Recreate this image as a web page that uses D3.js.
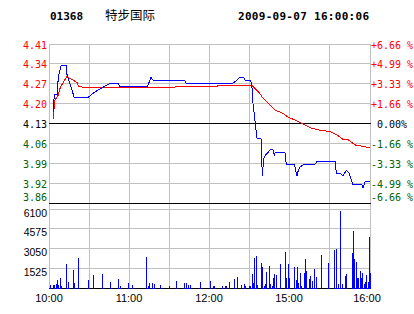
<!DOCTYPE html>
<html>
<head>
<meta charset="utf-8">
<script src="https://cdn.jsdelivr.net/npm/d3@7"></script>
<style>
    body { margin: 0; background: white; }
    svg { display: block; }
</style>
</head>
<body>
<div id="chart"></div>
<script>
// header
const stockCode = "01368";
const stockName = "特步国际";
const stamp = "2009-09-07 16:00:06";

// minutes since 10:00 (trading time) and price of the blue line
const priceMin = [3, 4, 6, 7, 9, 13, 13.5, 19, 29, 34.5, 46, 52, 53, 74, 76.5, 78, 101.5, 103, 138, 141, 143, 146, 147, 151, 152, 153, 154.5, 156, 159, 160, 161, 162, 166, 168, 169, 169.5, 177, 178, 184, 186, 187, 188, 191, 199.5, 201, 214.5, 215.5, 218, 220.5, 223, 225, 228, 234.5, 235.5, 237, 241];
const prices = [4.17, 4.23, 4.23, 4.29, 4.33, 4.33, 4.30, 4.22, 4.22, 4.24, 4.27, 4.27, 4.26, 4.26, 4.29, 4.28, 4.28, 4.27, 4.27, 4.28, 4.29, 4.29, 4.28, 4.28, 4.27, 4.20, 4.14, 4.08, 4.08, 3.95, 4.01, 4.02, 4.04, 4.04, 4.02, 4.03, 4.03, 3.99, 3.99, 3.95, 3.97, 3.98, 3.99, 3.99, 4.00, 4.00, 3.96, 3.96, 3.95, 3.97, 3.96, 3.92, 3.92, 3.91, 3.93, 3.93];

// red average line
const avgMin = [3, 4.5, 7, 8.5, 13.3, 18, 21, 22, 25.5, 126.5, 126.5, 152, 154.5, 158, 160.5, 164.5, 169.5, 175.5, 179.5, 184.5, 190.5, 196, 203, 211, 217, 220.5, 224.5, 229.5, 234.5, 241];
const avgPrices = [4.145, 4.212, 4.229, 4.256, 4.292, 4.281, 4.272, 4.260, 4.256, 4.257, 4.261, 4.263, 4.252, 4.235, 4.218, 4.200, 4.177, 4.166, 4.152, 4.143, 4.129, 4.116, 4.108, 4.103, 4.088, 4.076, 4.074, 4.057, 4.053, 4.047];

// volume bars
const volMin = [1, 3, 4, 5, 6, 7, 8, 9, 13, 14, 18, 19, 22, 29, 33, 40, 46, 52, 53, 59, 62, 73, 74, 75, 77, 79, 83, 90, 95, 101, 103, 104, 106, 113, 121, 123, 124, 130, 132, 133, 135, 139, 141, 144, 146, 147, 150, 151, 152, 153, 154, 155, 156, 159, 160, 161, 162, 163, 165, 166, 167, 168, 169, 170, 173, 177, 178, 179, 180, 184, 185, 186, 187, 188, 189, 191, 192, 193, 195, 196, 197, 199, 200, 204, 209, 214, 215, 217, 218, 220, 222, 223, 227, 228, 229, 230, 231, 232, 233, 234, 235, 236, 237, 238, 239, 240, 241];
const volumes = [255, 255, 255, 330, 640, 255, 790, 180, 1880, 480, 1415, 410, 2340, 640, 1025, 1100, 480, 715, 180, 410, 255, 2420, 180, 410, 410, 330, 255, 180, 560, 410, 410, 255, 255, 480, 560, 180, 180, 180, 180, 180, 480, 715, 870, 255, 330, 180, 180, 180, 1100, 410, 2340, 2490, 255, 1950, 1640, 180, 330, 1255, 1720, 330, 180, 790, 1100, 1025, 1880, 2800, 790, 1880, 790, 1640, 640, 1640, 410, 1180, 180, 1180, 2260, 1330, 715, 950, 560, 1490, 870, 2570, 1950, 2950, 3030, 330, 5970, 330, 950, 1100, 2720, 4420, 2260, 2030, 790, 790, 1330, 790, 1180, 330, 480, 1025, 480, 3980, 1180];

// axis labels
const priceLabels = ["4.41", "4.34", "4.27", "4.20", "4.13", "4.06", "3.99", "3.92", "3.86"];
const pctLabels = ["+6.66 %", "+4.99 %", "+3.33 %", "+1.66 %", " 0.00%", "-1.66 %", "-3.33 %", "-4.99 %", "-6.66 %"];
const volLabels = ["6100", "4575", "3050", "1525"];
const timeLabels = ["10:00", "11:00", "12:00", "15:00", "16:00"];
const timeMin = [0, 60, 120, 180, 240];

const basePrice = 4.13;
const halfRange = 0.275;

const width = 414, height = 314;
const left = 49, right = 370.5;
const gridColor = "#c0c0c0";
const upColor = "#ff0000", downColor = "#006000";

const svg = d3.select("#chart").append("svg")
    .attr("width", width).attr("height", height);

const x = d3.scaleLinear().domain([0, 240]).range([left, 369]);
const y = d3.scaleLinear().domain([basePrice - halfRange, basePrice + halfRange]).range([203.5, 44]);
const yv = d3.scaleLinear().domain([0, 6100]).range([288.5, 209]);

const mono = "'DejaVu Sans Mono', 'Liberation Mono', monospace";
const sans = "'Liberation Sans', Arial, sans-serif";

// header
svg.append("text").attr("x", 50).attr("y", 20)
    .style("font-family", mono).style("font-weight", "bold").style("font-size", "11px")
    .text(stockCode);
svg.append("text").attr("x", 105).attr("y", 20)
    .style("font-family", "'Noto Sans CJK SC', sans-serif").style("font-size", "12.5px")
    .text(stockName);
svg.append("text").attr("x", 238).attr("y", 20)
    .style("font-family", mono).style("font-weight", "bold").style("font-size", "11px")
    .attr("textLength", 131)
    .text(stamp);

const grid = svg.append("g").attr("shape-rendering", "crispEdges");

// vertical grid
grid.selectAll(".vgrid")
    .data(d3.range(0, 241, 30))
    .join("line")
    .attr("class", "vgrid")
    .attr("x1", d => d === 240 ? right : x(d)).attr("x2", d => d === 240 ? right : x(d))
    .attr("y1", 44).attr("y2", 288.5)
    .style("stroke", gridColor);

// price grid
const priceSteps = priceLabels.map((d, i) => basePrice + halfRange - i * halfRange / 4);
grid.selectAll(".pgrid")
    .data(priceSteps)
    .join("line")
    .attr("class", "pgrid")
    .attr("x1", left).attr("x2", right)
    .attr("y1", d => y(d)).attr("y2", d => y(d))
    .style("stroke", (d, i) => i === 4 || i === 8 ? "black" : gridColor);

// volume grid
grid.selectAll(".vlgrid")
    .data([6100, 4575, 3050, 1525, 0])
    .join("line")
    .attr("class", "vlgrid")
    .attr("x1", left).attr("x2", right)
    .attr("y1", d => yv(d)).attr("y2", d => yv(d))
    .style("stroke", d => d === 0 ? "black" : gridColor);

// bottom price labels sit above their line
const labelY = (i) => y(priceSteps[i]) + (i === 8 ? -2.5 : 4.5);

// price labels
svg.selectAll(".plabel")
    .data(priceLabels)
    .join("text")
    .attr("class", "plabel")
    .attr("x", 47).attr("y", (d, i) => labelY(i))
    .attr("text-anchor", "end")
    .style("font-family", mono).style("font-size", "10px")
    .style("fill", (d, i) => i < 4 ? upColor : i === 4 ? "black" : downColor)
    .text(d => d);

svg.selectAll(".pctlabel")
    .data(pctLabels)
    .join("text")
    .attr("class", "pctlabel")
    .attr("x", 371).attr("y", (d, i) => labelY(i))
    .attr("xml:space", "preserve")
    .style("white-space", "pre")
    .style("font-family", mono).style("font-size", "10px")
    .style("fill", (d, i) => i < 4 ? upColor : i === 4 ? "black" : downColor)
    .text(d => d);

// volume labels
svg.selectAll(".vlabel")
    .data(volLabels)
    .join("text")
    .attr("class", "vlabel")
    .attr("x", 47).attr("y", d => yv(+d) + 7.5)
    .attr("text-anchor", "end")
    .style("font-family", sans).style("font-size", "10.5px")
    .text(d => d);

// time labels
svg.selectAll(".tlabel")
    .data(timeLabels)
    .join("text")
    .attr("class", "tlabel")
    .attr("x", (d, i) => x(timeMin[i]) - (i === 4 ? 2 : 0)).attr("y", 302)
    .attr("text-anchor", "middle")
    .style("font-family", sans).style("font-size", "11px")
    .text(d => d);

// volume bars
svg.append("g").attr("shape-rendering", "crispEdges")
    .selectAll("rect")
    .data(volMin.map((m, i) => ({ m, v: volumes[i] })))
    .join("rect")
    .attr("x", d => Math.round(x(d.m)))
    .attr("width", 1)
    .attr("y", d => yv(d.v))
    .attr("height", d => yv(0) - yv(d.v))
    .style("fill", "#0000ff");

// lines
const line = d3.line().x(d => x(d[0])).y(d => y(d[1]));

svg.append("path")
    .datum(avgMin.map((m, i) => [m, avgPrices[i]]))
    .attr("d", line)
    .attr("shape-rendering", "crispEdges")
    .style("fill", "none").style("stroke", "#ff0000").style("stroke-width", 1);

svg.append("path")
    .datum(priceMin.map((m, i) => [m, prices[i]]))
    .attr("d", line)
    .attr("shape-rendering", "crispEdges")
    .style("fill", "none").style("stroke", "#0000ff").style("stroke-width", 1);
</script>
</body>
</html>
